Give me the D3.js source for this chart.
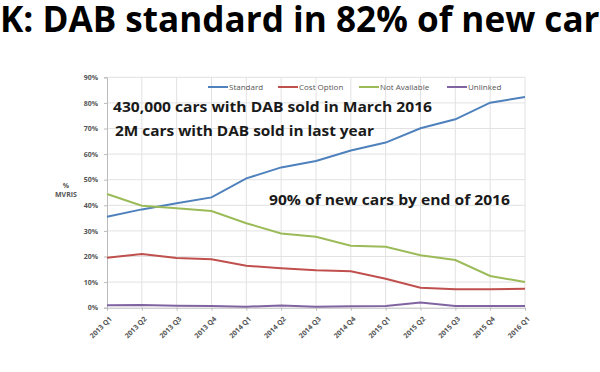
<!DOCTYPE html>
<html>
<head>
<meta charset="utf-8">
<script src="https://cdn.jsdelivr.net/npm/d3@7"></script>
<style>
  body { margin: 0; background: #fff; }
  svg { display: block; }
</style>
</head>
<body>
<svg></svg>
<script>
// quarters on the x axis
const quarters = ["2013 Q1", "2013 Q2", "2013 Q3", "2013 Q4",
    "2014 Q1", "2014 Q2", "2014 Q3", "2014 Q4",
    "2015 Q1", "2015 Q2", "2015 Q3", "2015 Q4", "2016 Q1"];

// share of new cars (%)
const standard     = [35.5, 38.4, 40.8, 43.1, 50.5, 54.8, 57.3, 61.4, 64.5, 70.1, 73.6, 80.1, 82.3];
const costOption   = [19.5, 21.0, 19.4, 18.9, 16.4, 15.4, 14.6, 14.2, 11.3, 7.8, 7.2, 7.2, 7.4];
const notAvailable = [44.4, 39.8, 38.8, 37.8, 33.0, 29.0, 27.7, 24.2, 23.8, 20.5, 18.6, 12.4, 10.0];
const unlinked     = [1.0, 1.1, 0.8, 0.7, 0.4, 0.9, 0.4, 0.6, 0.7, 2.0, 0.7, 0.7, 0.7];

const yTicks = [0, 10, 20, 30, 40, 50, 60, 70, 80, 90];

const seriesNames = ["Standard", "Cost Option", "Not Available", "Unlinked"];
const seriesValues = [standard, costOption, notAvailable, unlinked];
const colors = ["#4f81bd", "#c0504d", "#9bbb59", "#8064a2"];

const width = 600;
const height = 372;
const font = "'Open Sans', sans-serif";

const svg = d3.select("svg")
    .attr("width", width)
    .attr("height", height)
    .style("font-family", font);

const x = d3.scalePoint()
    .domain(quarters)
    .range([107, 525]);

const y = d3.scaleLinear()
    .domain([0, 90])
    .range([307.7, 77.3]);

// gridlines
svg.append("g")
    .selectAll("line")
    .data(yTicks.slice(1))
    .enter()
    .append("line")
    .attr("x1", x.range()[0])
    .attr("x2", x.range()[1])
    .attr("y1", d => y(d))
    .attr("y2", d => y(d))
    .attr("stroke", "#e2e2e2")
    .attr("stroke-width", 1);

svg.append("g")
    .selectAll("line")
    .data(quarters.slice(1))
    .enter()
    .append("line")
    .attr("x1", d => x(d))
    .attr("x2", d => x(d))
    .attr("y1", y(0))
    .attr("y2", y(90))
    .attr("stroke", "#e2e2e2")
    .attr("stroke-width", 1);

// y axis
const yAxis = svg.append("g")
    .attr("transform", `translate(${x.range()[0]},0)`)
    .call(d3.axisLeft(y).tickValues(yTicks).tickSize(3).tickPadding(6).tickFormat(d => d + "%"));
yAxis.select(".domain").attr("stroke", "#bbb");
yAxis.selectAll(".tick line").attr("stroke", "#bbb");
yAxis.selectAll("text")
    .style("font-family", font)
    .style("font-size", "7px")
    .style("font-weight", "bold")
    .attr("fill", "#555");

// x axis
const xAxis = svg.append("g")
    .attr("transform", `translate(0,${y(0)})`)
    .call(d3.axisBottom(x).tickSize(3).tickSizeOuter(0));
xAxis.select(".domain").attr("stroke", "#bbb");
xAxis.selectAll(".tick line").attr("stroke", "#bbb");
xAxis.selectAll("text")
    .style("font-family", font)
    .style("font-size", "7px")
    .style("font-weight", "bold")
    .attr("fill", "#555")
    .attr("text-anchor", "end")
    .attr("dy", "0.35em")
    .attr("transform", "translate(3,10) rotate(-45)")
    .attr("y", 0)
    .attr("x", 0);

// axis title
svg.append("text")
    .attr("x", 66).attr("y", 188)
    .attr("text-anchor", "middle")
    .style("font-size", "7px").style("font-weight", "bold").attr("fill", "#555")
    .text("%");
svg.append("text")
    .attr("x", 66).attr("y", 197)
    .attr("text-anchor", "middle")
    .style("font-size", "7px").style("font-weight", "bold").attr("fill", "#555")
    .text("MVRIS");

// lines
const line = d3.line()
    .x((d, i) => x(quarters[i]))
    .y(d => y(d));

svg.append("g")
    .selectAll("path")
    .data(seriesValues)
    .enter()
    .append("path")
    .attr("d", d => line(d))
    .attr("fill", "none")
    .attr("stroke", (d, i) => colors[i])
    .attr("stroke-width", 2);

// legend
const legendX = [208, 278, 359, 447];
const legend = svg.append("g")
    .selectAll("g")
    .data(seriesNames)
    .enter()
    .append("g")
    .attr("transform", (d, i) => `translate(${legendX[i]},87)`);
legend.append("line")
    .attr("x1", 0).attr("x2", 20)
    .attr("stroke", (d, i) => colors[i])
    .attr("stroke-width", 2);
legend.append("text")
    .attr("x", 21).attr("dy", "0.35em")
    .style("font-size", "8px")
    .attr("fill", "#555")
    .text(d => d);

// annotations
const notes = [
    {text: "430,000 cars with DAB sold in March 2016", x: 113, y: 112, len: 319},
    {text: "2M cars with DAB sold in last year", x: 115, y: 136, len: 259},
    {text: "90% of new cars by end of 2016", x: 269, y: 205, len: 241}
];
svg.append("g")
    .selectAll("text")
    .data(notes)
    .enter()
    .append("text")
    .attr("x", d => d.x)
    .attr("y", d => d.y)
    .attr("textLength", d => d.len)
    .attr("lengthAdjust", "spacingAndGlyphs")
    .style("font-size", "14px")
    .style("font-weight", "bold")
    .attr("fill", "#1a1a1a")
    .text(d => d.text);

// title, cropped on both sides like the slide
const title = svg.append("text")
    .style("font-size", "35px")
    .style("font-weight", "bold")
    .attr("fill", "#000")
    .text("UK: DAB standard in 82% of new cars");
const tmp = svg.append("text").style("font-size", "35px").style("font-weight", "bold");
const uLen = tmp.text("U").node().getComputedTextLength();
const midLen = tmp.text("UK: DAB standard in 82% of new ca").node().getComputedTextLength() - uLen;
tmp.remove();
const sx = 584 / midLen;
title.attr("transform", `translate(${-uLen * sx},32) scale(${sx},1)`);
</script>
</body>
</html>
